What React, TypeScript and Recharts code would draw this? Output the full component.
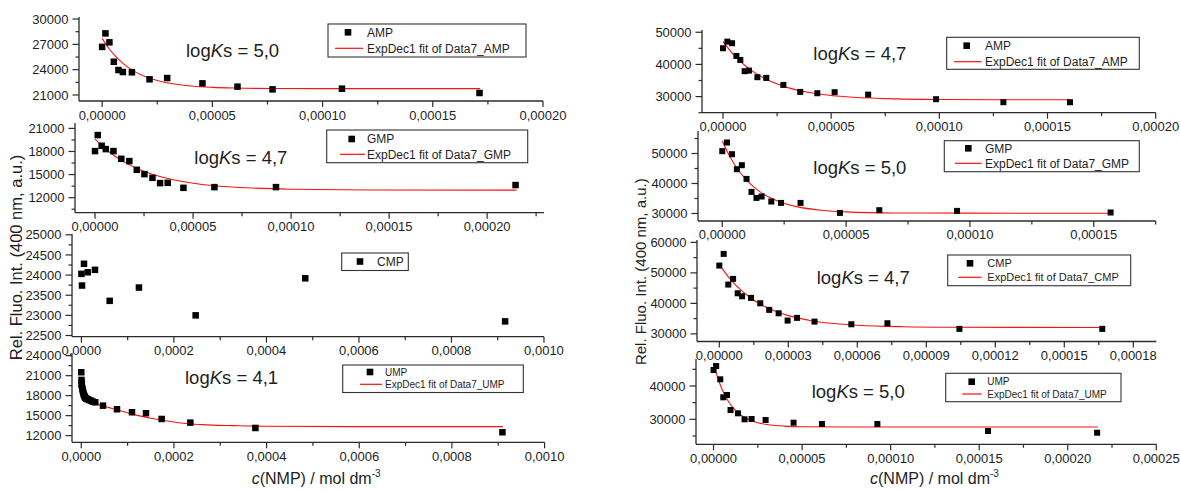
import { ComposedChart, Scatter, XAxis, YAxis } from 'recharts';

const AXIS = '#2b2b2b';
const INK = '#1e1e1e';
const FIT = '#ff1010';
const FONT = '"Liberation Sans", Arial, sans-serif';

type Pt = [number, number];

// measured points, c(NMP) in mol/dm3 vs intensity
const ampLeft: Pt[] = [
  [0, 26700], [0.0000015, 28300], [0.0000033, 27240], [0.0000053, 24940], [0.0000074, 23960],
  [0.0000094, 23720], [0.0000135, 23690], [0.0000215, 22860], [0.0000295, 23010], [0.0000455, 22380],
  [0.0000614, 21990], [0.0000773, 21670], [0.0001088, 21750], [0.0001712, 21240],
];
const ampLeftFit: Pt[] = [
  [0, 27710], [0.000003, 26540], [0.000006, 25600], [0.00001, 24620], [0.000015, 23740], [0.00002, 23135],
  [0.000025, 22710], [0.00003, 22420], [0.00004, 22070], [0.00005, 21905], [0.00006, 21825],
  [0.00008, 21767], [0.0001, 21752], [0.0001715, 21750],
];

const gmpLeft: Pt[] = [
  [0, 18050], [0.0000014, 20130], [0.0000034, 18740], [0.0000055, 18310], [0.0000094, 18050],
  [0.0000134, 17050], [0.0000175, 16750], [0.0000213, 15620], [0.0000252, 15060], [0.0000293, 14580],
  [0.0000332, 13890], [0.0000371, 13930], [0.0000451, 13280], [0.0000609, 13370], [0.0000923, 13370],
  [0.0002145, 13640],
];
const gmpLeftFit: Pt[] = [
  [0, 19610], [0.000005, 18410], [0.00001, 17420], [0.000015, 16620], [0.00002, 15960], [0.00003, 14980],
  [0.00004, 14320], [0.00005, 13880], [0.00006, 13580], [0.00008, 13250], [0.0001, 13100],
  [0.00014, 13005], [0.000215, 12980],
];

const cmpLeft: Pt[] = [
  [0, 24030], [0.0000013, 23740], [0.0000056, 24280], [0.0000136, 24070], [0.0000294, 24130],
  [0.0000611, 23360], [0.0001244, 23690], [0.000247, 23000], [0.000484, 23920], [0.000916, 22850],
];

const umpLeft: Pt[] = [
  [0, 21510], [0.0000005, 20360], [0.0000007, 19600], [0.0000012, 19900], [0.0000022, 19100],
  [0.000003, 18900], [0.0000037, 18600], [0.0000046, 18350], [0.0000058, 18100], [0.000007, 17900],
  [0.0000086, 17700], [0.000011, 17550], [0.0000137, 17460], [0.000017, 17350], [0.000021, 17250],
  [0.000025, 17100], [0.0000302, 17000], [0.0000469, 16500], [0.0000771, 15960], [0.0001095, 15510],
  [0.0001397, 15360], [0.0001735, 14500], [0.0002354, 13950], [0.0003758, 13150], [0.000909, 12510],
];
const umpLeftFit: Pt[] = [
  [0, 19200], [0.000005, 18300], [0.00001, 17800], [0.000016, 17350], [0.00003, 16900], [0.00004, 16600],
  [0.00006, 16200], [0.00008, 15800], [0.00011, 15250], [0.00015, 14600], [0.00019, 14150],
  [0.00022, 13850], [0.00026, 13650], [0.00033, 13500], [0.0004, 13400], [0.0006, 13350], [0.00091, 13350],
];

const ampRight: Pt[] = [
  [0, 45030], [0.000002, 47080], [0.0000042, 46590], [0.0000062, 42640], [0.000008, 41400],
  [0.00001, 37890], [0.000012, 38080], [0.0000159, 36030], [0.00002, 35810], [0.0000279, 33630],
  [0.0000357, 31460], [0.0000436, 31050], [0.0000516, 31370], [0.0000671, 30620], [0.0000985, 29190],
  [0.0001296, 28260], [0.0001604, 28260],
];
const ampRightFit: Pt[] = [
  [0, 47100], [0.000005, 42960], [0.00001, 39750], [0.000015, 37290], [0.00002, 35390], [0.00003, 32790],
  [0.00004, 31250], [0.00005, 30340], [0.00006, 29800], [0.00008, 29280], [0.0001, 29100],
  [0.00013, 29020], [0.00016, 29000],
];

const gmpRight: Pt[] = [
  [0, 50770], [0.0000019, 53670], [0.0000039, 49770], [0.0000059, 44770], [0.0000079, 46100],
  [0.0000098, 41530], [0.0000118, 37200], [0.0000138, 35200], [0.0000159, 35670], [0.0000198, 34000],
  [0.0000237, 33530], [0.0000316, 33530], [0.0000475, 30200], [0.0000634, 31100], [0.0000948, 30870],
  [0.0001568, 30330],
];
const gmpRightFit: Pt[] = [
  [0, 54200], [0.000003, 49060], [0.000006, 45010], [0.00001, 40930], [0.000015, 37360], [0.00002, 34965],
  [0.000025, 33360], [0.00003, 32290], [0.00004, 31080], [0.00005, 30540], [0.00007, 30190],
  [0.0001, 30110], [0.000157, 30100],
];

const cmpRight: Pt[] = [
  [0, 52400], [0.0000019, 56230], [0.0000039, 46170], [0.000006, 48030], [0.000008, 43310],
  [0.0000099, 42330], [0.0000138, 41800], [0.0000178, 40030], [0.0000217, 37870], [0.0000258, 36750],
  [0.0000297, 34360], [0.0000338, 35250], [0.0000414, 34030], [0.0000574, 33150], [0.0000731, 33480],
  [0.0001044, 31640], [0.0001665, 31640],
];
const cmpRightFit: Pt[] = [
  [0, 52700], [0.000005, 47700], [0.00001, 43920], [0.000015, 41050], [0.00002, 38880], [0.000025, 37235],
  [0.00003, 35990], [0.00004, 34330], [0.00005, 33380], [0.00006, 32835], [0.00008, 32340],
  [0.0001, 32180], [0.000167, 32100],
];

const umpRight: Pt[] = [
  [0, 44790], [0.0000015, 45990], [0.0000038, 42000], [0.0000055, 36600], [0.0000076, 37290],
  [0.0000096, 32790], [0.0000138, 31800], [0.0000175, 30000], [0.0000215, 30090], [0.0000294, 29790],
  [0.0000452, 28980], [0.0000612, 28590], [0.0000925, 28590], [0.000155, 26490], [0.0002166, 25980],
];
const umpRightFit: Pt[] = [
  [0, 46800], [0.000002, 43070], [0.000004, 40060], [0.000006, 37650], [0.000008, 35700], [0.00001, 34140],
  [0.000013, 32350], [0.000016, 31060], [0.00002, 29870], [0.000025, 28960], [0.00003, 28440],
  [0.00004, 27950], [0.00005, 27780], [0.00008, 27710], [0.000217, 27700],
];

const legendNames = ['AMP', 'GMP', 'CMP', 'UMP'];
const fitNames = legendNames.map((n) => `ExpDec1 fit of Data7_${n}`);
const logKLeft = ['5,0', '4,7', '', '4,1'];
const logKRight = ['4,7', '5,0', '4,7', '5,0'];

type Panel = {
  plot: [number, number, number, number];
  xDomain: [number, number];
  yDomain: [number, number];
  xMajor: number[];
  xMinor: number[];
  yMajor: number[];
  yMinor: number[];
  digits: number;
  marker: number;
  points: Pt[];
  fit?: Pt[];
};

const q5 = [0, 0.00005, 0.0001, 0.00015, 0.0002];
const q5m = [0.000025, 0.000075, 0.000125, 0.000175];
const m4 = [0, 0.0002, 0.0004, 0.0006, 0.0008, 0.001];
const m4m = [0.0001, 0.0003, 0.0005, 0.0007, 0.0009];

const panels: Panel[] = [
  {
    plot: [79, 17, 543, 101], xDomain: [-0.0000105, 0.0002], yDomain: [20290, 30240],
    xMajor: q5, xMinor: q5m, yMajor: [21000, 24000, 27000, 30000], yMinor: [22500, 25500, 28500],
    digits: 5, marker: 6.5, points: ampLeft, fit: ampLeftFit,
  },
  {
    plot: [75, 123, 544, 212.7], xDomain: [-0.0000102, 0.000229], yDomain: [10050, 21700],
    xMajor: q5, xMinor: [...q5m, 0.000225], yMajor: [12000, 15000, 18000, 21000], yMinor: [10500, 13500, 16500, 19500],
    digits: 5, marker: 6.5, points: gmpLeft, fit: gmpLeftFit,
  },
  {
    plot: [72.3, 234, 544.3, 336.7], xDomain: [-0.0000203, 0.001], yDomain: [22470, 25020],
    xMajor: m4, xMinor: m4m, yMajor: [22500, 23000, 23500, 24000, 24500, 25000],
    yMinor: [22750, 23250, 23750, 24250, 24750], digits: 4, marker: 6.5, points: cmpLeft,
  },
  {
    plot: [71.7, 353, 544.3, 442.3], xDomain: [-0.00002, 0.001], yDomain: [11000, 24400],
    xMajor: m4, xMinor: m4m, yMajor: [12000, 15000, 18000, 21000, 24000], yMinor: [13500, 16500, 19500, 22500],
    digits: 4, marker: 6.5, points: umpLeft, fit: umpLeftFit,
  },
  {
    plot: [702.3, 30, 1156, 112.7], xDomain: [-0.0000097, 0.0002], yDomain: [25000, 50700],
    xMajor: q5, xMinor: q5m, yMajor: [30000, 40000, 50000], yMinor: [25000, 35000, 45000],
    digits: 5, marker: 6, points: ampRight, fit: ampRightFit,
  },
  {
    plot: [698.3, 130.7, 1156, 220.7], xDomain: [-0.0000098, 0.000175], yDomain: [27500, 57500],
    xMajor: [0, 0.00005, 0.0001, 0.00015], xMinor: q5m, yMajor: [30000, 40000, 50000], yMinor: [35000, 45000, 55000],
    digits: 5, marker: 6, points: gmpRight, fit: gmpRightFit,
  },
  {
    plot: [696.7, 239.5, 1156, 341], xDomain: [-0.0000097, 0.00019], yDomain: [27500, 60780],
    xMajor: [0, 0.00003, 0.00006, 0.00009, 0.00012, 0.00015, 0.00018],
    xMinor: [0.000015, 0.000045, 0.000075, 0.000105, 0.000135, 0.000165],
    yMajor: [30000, 40000, 50000, 60000], yMinor: [35000, 45000, 55000],
    digits: 5, marker: 6, points: cmpRight, fit: cmpRightFit,
  },
  {
    plot: [695.7, 359, 1156, 444.3], xDomain: [-0.0000099, 0.00025], yDomain: [22500, 48100],
    xMajor: [0, 0.00005, 0.0001, 0.00015, 0.0002, 0.00025], xMinor: [...q5m, 0.000225],
    yMajor: [30000, 40000], yMinor: [25000, 35000, 45000],
    digits: 5, marker: 6, points: umpRight, fit: umpRightFit,
  },
];

const isMajor = (list: number[], v: number) => list.some((m) => Math.abs(m - v) < 1e-12);

function XTick(props: any) {
  const { x, y, payload, major, digits } = props;
  const big = isMajor(major, payload.value);
  return (
    <g>
      <line x1={x} x2={x} y1={y} y2={y + (big ? 6 : 3.5)} stroke={AXIS} strokeWidth={1.2} />
      {big && (
        <text x={x} y={y + 18.5} textAnchor="middle" fontSize={13} fill={INK} fontFamily={FONT}>
          {payload.value.toFixed(digits).replace('.', ',')}
        </text>
      )}
    </g>
  );
}

function YTick(props: any) {
  const { x, y, payload, major } = props;
  const big = isMajor(major, payload.value);
  return (
    <g>
      <line x1={x - (big ? 6.5 : 3.5)} x2={x} y1={y} y2={y} stroke={AXIS} strokeWidth={1.2} />
      {big && (
        <text x={x - 10.5} y={y + 4.6} textAnchor="end" fontSize={13} fill={INK} fontFamily={FONT}>
          {payload.value}
        </text>
      )}
    </g>
  );
}

function PanelChart({ p }: { p: Panel }) {
  const [l, t, r, b] = p.plot;
  const yW = 64;
  const padT = 12;
  const padR = 30;
  const xH = 30;
  const w = yW + (r - l) + padR;
  const h = padT + (b - t) + xH;
  const pts = p.points.map(([x, y]) => ({ x, y }));
  const fit = p.fit ? p.fit.map(([x, y]) => ({ x, y })) : null;
  const s = p.marker;
  return (
    <div style={{ position: 'absolute', left: l - yW, top: t - padT, width: w, height: h }}>
      <ComposedChart width={w} height={h} margin={{ top: padT, right: padR, bottom: 0, left: 0 }}>
        <XAxis
          type="number"
          dataKey="x"
          domain={p.xDomain}
          allowDataOverflow
          ticks={[...p.xMajor, ...p.xMinor].sort((a, c) => a - c)}
          interval={0}
          height={xH}
          tickLine={false}
          tickSize={0}
          tickMargin={0}
          axisLine={{ stroke: AXIS, strokeWidth: 1.3 }}
          tick={(props: any) => <XTick {...props} major={p.xMajor} digits={p.digits} />}
        />
        <YAxis
          type="number"
          dataKey="y"
          domain={p.yDomain}
          allowDataOverflow
          ticks={[...p.yMajor, ...p.yMinor].sort((a, c) => a - c)}
          interval={0}
          width={yW}
          tickLine={false}
          tickSize={0}
          tickMargin={0}
          axisLine={{ stroke: AXIS, strokeWidth: 1.3 }}
          tick={(props: any) => <YTick {...props} major={p.yMajor} />}
        />
        {fit && (
          <Scatter
            data={fit}
            line={{ stroke: FIT, strokeWidth: 1.1 }}
            lineJointType="monotoneX"
            shape={() => <g />}
            isAnimationActive={false}
          />
        )}
        <Scatter
          data={pts}
          isAnimationActive={false}
          shape={(sp: any) => <rect x={sp.cx - s / 2} y={sp.cy - s / 2} width={s} height={s} fill="#000" />}
        />
      </ComposedChart>
    </div>
  );
}

type LegendPos = {
  box: [number, number, number, number];
  mx: number;
  my: number;
  lx1: number;
  lx2: number;
  ly: number;
  tx: number;
  fs: number;
};

const legendLeft: LegendPos[] = [
  { box: [328, 24, 526, 57], mx: 348, my: 32.3, lx1: 335, lx2: 363, ly: 48.3, tx: 367, fs: 12 },
  { box: [326.7, 130, 527.7, 162.7], mx: 351.7, my: 139, lx1: 340, lx2: 365, ly: 154.3, tx: 367, fs: 12 },
  { box: [341.7, 253, 408.3, 270.5], mx: 360, my: 261.5, lx1: 0, lx2: 0, ly: 0, tx: 377, fs: 12 },
  { box: [342.7, 365, 523.3, 392.5], mx: 370, my: 372, lx1: 360, lx2: 382, ly: 384.3, tx: 385, fs: 10 },
];
const legendRight: LegendPos[] = [
  { box: [946.7, 37.3, 1139.3, 69.3], mx: 966.7, my: 45.7, lx1: 954, lx2: 981.7, ly: 61.7, tx: 985, fs: 12 },
  { box: [944.3, 140.7, 1139.3, 171.7], mx: 968.3, my: 148.3, lx1: 955, lx2: 981.7, ly: 163.3, tx: 985, fs: 12 },
  { box: [947.7, 255, 1130.7, 285.7], mx: 970, my: 263.3, lx1: 958.3, lx2: 981.7, ly: 277.3, tx: 987.3, fs: 11 },
  { box: [945.7, 373.3, 1121, 401.7], mx: 971.7, my: 381.7, lx1: 962.3, lx2: 981.7, ly: 394, tx: 987.3, fs: 10 },
];

const logKLeftPos: [number, number][] = [[186, 57.3], [194.3, 164], [0, 0], [185, 384]];
const logKRightPos: [number, number][] = [[813.3, 60], [813.3, 174], [816.7, 284], [811.7, 397.7]];

function LegendBox({ g, name, fitName }: { g: LegendPos; name: string; fitName?: string }) {
  const [l, t, r, b] = g.box;
  return (
    <g fontFamily={FONT} fill={INK}>
      <rect x={l} y={t} width={r - l} height={b - t} fill="#fff" stroke="#333" strokeWidth={1.1} />
      <rect x={g.mx - 3.3} y={g.my - 3.3} width={6.6} height={6.6} fill="#000" />
      <text x={g.tx} y={g.my + g.fs * 0.36} fontSize={g.fs}>{name}</text>
      {fitName && (
        <>
          <line x1={g.lx1} x2={g.lx2} y1={g.ly} y2={g.ly} stroke={FIT} strokeWidth={1.2} />
          <text x={g.tx} y={g.ly + g.fs * 0.36} fontSize={g.fs}>{fitName}</text>
        </>
      )}
    </g>
  );
}

function LogK({ x, y, v }: { x: number; y: number; v: string }) {
  return (
    <text x={x} y={y} fontSize={18.5} fontFamily={FONT} fill={INK}>
      log<tspan fontStyle="italic">K</tspan>s = {v}
    </text>
  );
}

export default function App() {
  return (
    <div style={{ position: 'absolute', left: 0, top: 0, width: 1180, height: 491, background: '#fff', overflow: 'hidden' }}>
      {panels.map((p, i) => (
        <PanelChart key={i} p={p} />
      ))}
      <svg width={1180} height={491} style={{ position: 'absolute', left: 0, top: 0, pointerEvents: 'none' }}>
        {legendNames.map((n, i) => (
          <LegendBox key={'l' + n} g={legendLeft[i]} name={n} fitName={i === 2 ? undefined : fitNames[i]} />
        ))}
        {legendNames.map((n, i) => (
          <LegendBox key={'r' + n} g={legendRight[i]} name={n} fitName={fitNames[i]} />
        ))}
        {logKLeft.map((v, i) =>
          v ? <LogK key={'kl' + i} x={logKLeftPos[i][0]} y={logKLeftPos[i][1]} v={v} /> : null,
        )}
        {logKRight.map((v, i) => (
          <LogK key={'kr' + i} x={logKRightPos[i][0]} y={logKRightPos[i][1]} v={v} />
        ))}
        <text transform="translate(22,257.5) rotate(-90)" textAnchor="middle" fontSize={16.5} fontFamily={FONT} fill={INK}>
          Rel. Fluo. Int. (400 nm, a.u.)
        </text>
        <text transform="translate(646,271.7) rotate(-90)" textAnchor="middle" fontSize={15} fontFamily={FONT} fill={INK}>
          Rel. Fluo. Int. (400 nm, a.u.)
        </text>
        <text x={251.7} y={484} fontSize={16} fontFamily={FONT} fill={INK}>
          <tspan fontStyle="italic">c</tspan>(NMP) / mol dm<tspan dy={-7} fontSize={10}>-3</tspan>
        </text>
        <text x={870} y={484} fontSize={16} fontFamily={FONT} fill={INK}>
          <tspan fontStyle="italic">c</tspan>(NMP) / mol dm<tspan dy={-7} fontSize={10}>-3</tspan>
        </text>
      </svg>
    </div>
  );
}
